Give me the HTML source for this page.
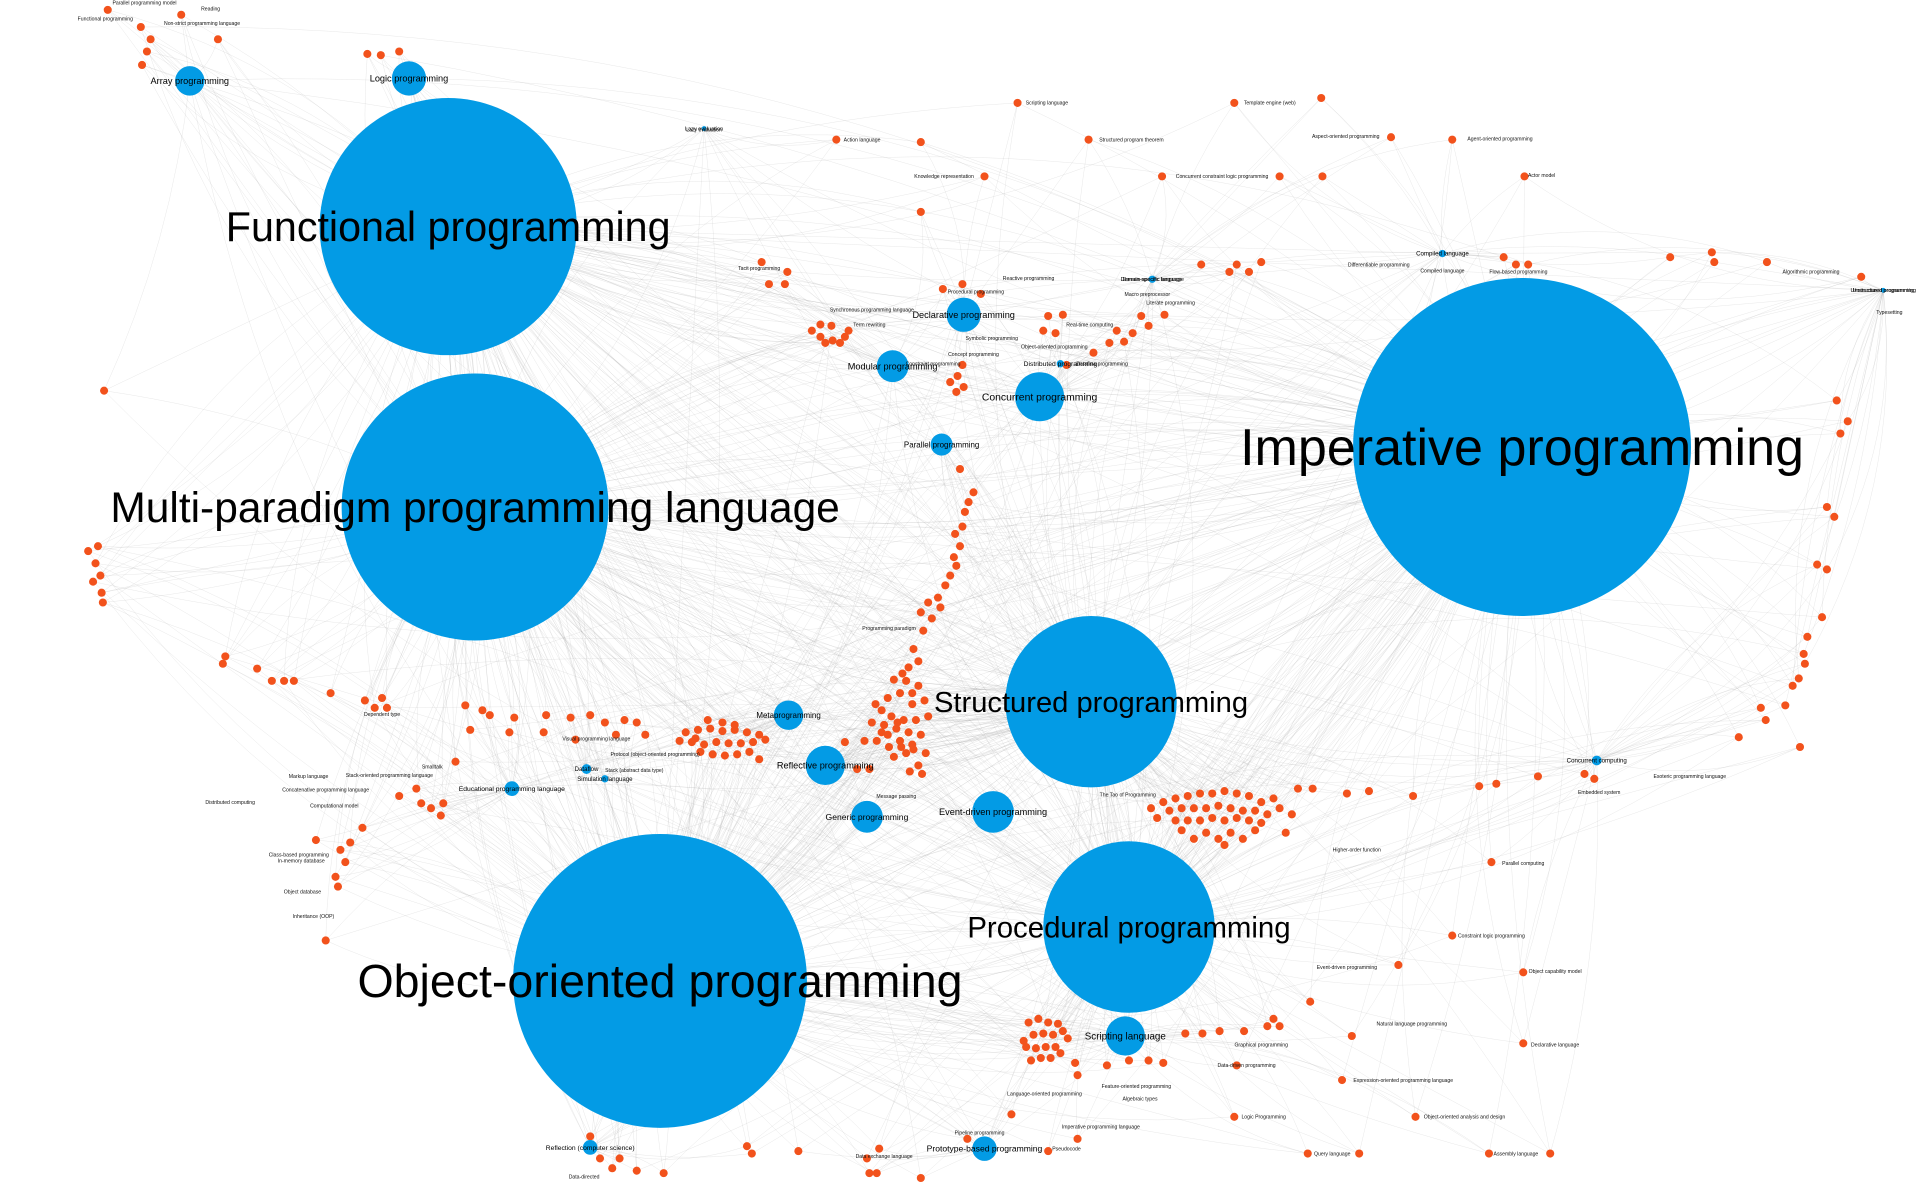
<!DOCTYPE html>
<html><head><meta charset="utf-8"><style>
html,body{margin:0;padding:0;background:#fff;}
svg{display:block;font-family:"Liberation Sans",Arial,sans-serif;}
</style></head><body>
<svg id="g" width="1920" height="1194" viewBox="0 0 1568 975" xmlns="http://www.w3.org/2000/svg">
<g id="edges"></g>
<g id="nodes"></g>
<g id="labels"></g>
</svg>
<script>
// hub nodes: name, x, y, radius(degree-based), label size
const hubNames = ["Functional programming","Multi-paradigm programming language","Imperative programming","Structured programming","Object-oriented programming","Procedural programming","Array programming","Logic programming","Declarative programming","Modular programming","Concurrent programming","Parallel programming","Metaprogramming","Reflective programming","Generic programming","Event-driven programming","Scripting language","Prototype-based programming","Reflection (computer science)","Educational programming language","Concurrent computing","Distributed programming","Compiled language","Lazy evaluation","Domain-specific language","Dataflow","Simulation language","Unstructured programming"];
const hubX = [366,388,1243,891,539,922,155,334,787,729,849,769,644,674,708,811,919,804,482,418,1304,866,1178,575,941,479,494,1538];
const hubY = [185,414,365,573,801,757,66,64,257,299,324,363,584,625,667,663,846,938,937,644,621,297,207,105,228,628,636,237];
const hubR = [105,109,138,70,120,70,12,14,14,13,20,9,12,16,13,17,16,10,6,6,4,3,3,2,3,4,3,2];
const hubFont = [33.7,34.7,42.5,23.8,38,24,7.5,7.5,7.5,7.5,8.5,6.5,6.5,7.5,7,7.5,8,7,5.5,5.5,5,5.5,5,4.5,4.5,5,5,4.5];

// leaf nodes (orange)
const leafX = [88,148,115,123,178,120,116,300,311,326,1079,831,1008,683,752,889,1136,1186,804,949,1045,1080,1245,752,622,643,628,641,786,770,801,981,1004,1010,1020,1030,1228,1238,1248,1364,1398,1400,1443,1520,856,868,862,852,932,951,938,912,906,918,925,893,663,670,679,670,680,690,693,686,674,782,776,787,781,786,871,85,1500,1509,1503,1492,1498,1484,1492,1488,1476,1473,1474,1469,1464,1458,1438,1442,1420,1470,
784,795,791,788,786,780,784,779,781,776,772,766,768,758,752,761,754,746,750,742,737,
730,740,750,745,735,725,720,715,745,755,728,738,748,758,712,722,732,742,752,725,735,745,706,716,726,736,746,756,730,740,750,700,710,720,733,743,753,690,
560,570,580,590,600,610,620,565,575,585,595,605,615,625,572,582,592,602,612,590,600,578,568,555,620,
950,960,970,980,990,1000,1010,1020,1030,1040,955,965,975,985,995,1005,1015,1025,1035,1045,960,970,980,990,1000,1010,1020,1030,945,965,985,1005,1025,1050,975,995,1015,940,1055,1000,
840,848,856,864,844,852,860,868,838,846,854,862,850,858,842,866,836,872,
72,80,78,82,76,83,84,184,182,210,222,232,240,270,298,312,306,316,380,394,400,420,446,466,482,494,510,520,384,416,444,470,503,527,372,340,326,344,362,352,360,296,286,278,282,274,276,266,258,
1060,1072,1100,1118,1154,1208,1222,1256,1294,1302,
1218,1186,1142,1070,1040,1045,1035,1104,1244,1244,1096,1156,1008,1068,1110,1266,1216,950,938,968,982,996,1016,1010,904,922,878,880,826,880,856,790,
482,490,506,520,500,542,610,614,652,708,718,710,716,752];
const leafY = [8,12,22,32,32,42,53,44,45,42,80,84,84,114,116,114,112,114,144,144,144,144,144,173,214,222,232,232,232,236,240,216,222,216,222,214,210,216,216,210,206,214,214,226,258,257,272,270,258,257,266,270,280,279,272,288,270,265,266,275,278,275,270,280,280,307,312,316,320,298,298,319,327,344,354,414,422,461,465,504,520,534,542,554,560,576,578,588,602,610,
383,402,410,418,430,436,446,455,462,470,478,488,496,492,500,505,515,530,540,545,550,
555,556,560,566,566,570,580,575,575,572,585,588,588,585,590,592,595,598,600,600,605,608,605,605,610,610,612,615,618,615,625,628,628,598,590,630,632,606,
598,596,595,597,596,598,600,606,608,606,607,607,606,604,614,616,617,616,614,590,592,588,603,605,620,
655,652,650,648,648,646,648,650,655,652,662,660,660,660,658,660,662,662,665,660,670,670,670,668,670,668,670,672,668,678,680,680,678,680,685,685,685,660,665,690,
835,832,835,836,845,844,845,842,855,856,855,855,864,864,866,860,850,848,
450,446,460,470,475,484,492,536,542,546,556,556,556,566,572,570,578,578,576,580,584,586,584,586,584,590,588,590,596,598,598,604,600,600,622,644,650,656,656,660,666,676,688,694,704,716,724,768,686,
644,644,648,646,650,642,640,634,632,636,
704,764,788,818,832,838,838,846,794,852,882,912,912,942,942,942,942,868,866,844,844,842,842,870,870,866,868,878,910,930,940,930,
928,946,946,956,954,958,936,942,940,946,938,958,958,962];

// small labels: text, x, y
const smallText = ["Parallel programming model","Reading","Functional programming","Non-strict programming language","Lazy evaluation","Scripting language","Template engine (web)","Aspect-oriented programming","Agent-oriented programming","Action language","Structured program theorem","Knowledge representation","Concurrent constraint logic programming","Actor model","Tacit programming","Differentiable programming","Compiled language","Flow-based programming","Algorithmic programming","Unstructured programming","Typesetting","Reactive programming","Domain-specific language","Procedural programming","Macro preprocessor","Literate programming","Synchronous programming language","Term rewriting","Real-time computing","Symbolic programming","Object-oriented programming","Concept programming","Constraint programming","Dataflow programming","Programming paradigm","Visual programming language","Protocol (object-oriented programming)","Stack (abstract data type)","Dependent type","Markup language","Stack-oriented programming language","Concatenative programming language","Computational model","Distributed computing","Class-based programming","In-memory database","Object database","Inheritance (OOP)","Smalltalk","Message passing","The Tao of Programming","Esoteric programming language","Embedded system","Higher-order function","Parallel computing","Constraint logic programming","Object capability model","Event-driven programming","Natural language programming","Declarative language","Graphical programming","Data-driven programming","Expression-oriented programming language","Logic Programming","Object-oriented analysis and design","Query language","Assembly language","Language-oriented programming","Feature-oriented programming","Algebraic types","Pipeline programming","Data exchange language","Pseudocode","Data-directed","Imperative programming language"];
const smallX = [118,172,86,165,575,855,1037,1099,1225,704,924,771,998,1259,620,1126,1178,1240,1479,1538,1543,840,941,797,937,956,712,710,890,810,861,795,762,900,726,487,535,518,312,252,318,266,273,188,244,246,247,256,353,732,921,1380,1306,1108,1244,1218,1270,1100,1153,1270,1030,1018,1146,1032,1196,1088,1238,853,928,931,800,722,871,477,899];
const smallY = [2,7,15,19,106,84,84,111,113,114,114,144,144,143,219,216,221,222,222,237,255,227,228,238,240,247,253,265,265,276,283,289,297,297,513,603,616,629,583,634,633,645,658,655,698,703,728,748,626,650,649,634,647,694,705,764,793,790,836,853,853,870,882,912,912,942,942,893,887,897,925,944,938,961,920];

const S = "http://www.w3.org/2000/svg";
const eG = document.getElementById('edges'), nG = document.getElementById('nodes'), lG = document.getElementById('labels');
const bigCount = 6;

function addEdge(x1,y1,x2,y2,k){
  const mx=(x1+x2)/2, my=(y1+y2)/2, dx=x2-x1, dy=y2-y1;
  const b = ((k%5)-2)*0.08;
  const p=document.createElementNS(S,'path');
  p.setAttribute('d',`M${x1},${y1} Q${mx-dy*b},${my+dx*b} ${x2},${y2}`);
  p.setAttribute('fill','none');p.setAttribute('stroke','#a0a0a0');
  p.setAttribute('stroke-width','0.4');p.setAttribute('stroke-opacity','0.25');
  
  
  eG.appendChild(p);
}
for(let i=0;i<leafX.length;i++){
  const d=[];
  for(let h=0;h<hubX.length;h++){d.push([Math.hypot(leafX[i]-hubX[h],leafY[i]-hubY[h])-hubR[h]*3,h]);}
  d.sort((a,b)=>a[0]-b[0]);
  for(let j=0;j<3;j++){const h=d[j][1];addEdge(leafX[i],leafY[i],hubX[h],hubY[h],i+j);}
  addEdge(leafX[i],leafY[i],hubX[i%bigCount],hubY[i%bigCount],i+3);
}
for(let a=0;a<hubX.length;a++)for(let b=a+1;b<hubX.length;b++){
  if(a<bigCount||b<bigCount){for(let r=0;r<(a<bigCount&&b<bigCount?6:2);r++)addEdge(hubX[a],hubY[a],hubX[b],hubY[b],a+b+r);}
}
for(let i=0;i<leafX.length;i++){
  const c=document.createElementNS(S,'circle');
  c.setAttribute('cx',leafX[i]);c.setAttribute('cy',leafY[i]);c.setAttribute('r',3.3);
  c.setAttribute('fill','#f2521c');
  
  
  nG.appendChild(c);
}
for(let h=0;h<hubX.length;h++){
  const c=document.createElementNS(S,'circle');
  c.setAttribute('cx',hubX[h]);c.setAttribute('cy',hubY[h]);c.setAttribute('r',hubR[h]);
  c.setAttribute('fill','#039be5');
  
  
  nG.appendChild(c);
  const t=document.createElementNS(S,'text');
  t.setAttribute('x',hubX[h]);t.setAttribute('y',hubY[h]+hubFont[h]*0.35);
  t.setAttribute('text-anchor','middle');t.setAttribute('font-size',hubFont[h]);
  t.setAttribute('fill','#000');
  t.textContent=hubNames[h];
  
  
  lG.appendChild(t);
}
for(let i=0;i<smallText.length;i++){
  const t=document.createElementNS(S,'text');
  t.setAttribute('x',smallX[i]);t.setAttribute('y',smallY[i]+1.5);
  t.setAttribute('text-anchor','middle');t.setAttribute('font-size',4.2);
  t.setAttribute('fill','#111');
  t.textContent=smallText[i];
  
  
  lG.appendChild(t);
}
</script>
</body></html>
